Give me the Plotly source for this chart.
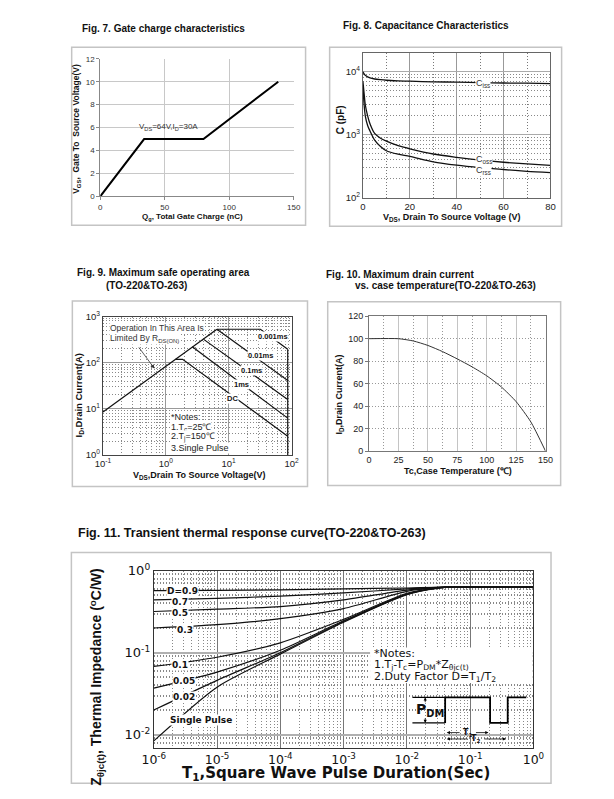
import math
import plotly.graph_objects as go

W, H = 614, 799
ARIAL = "Liberation Sans, Arial, sans-serif"
DEJA = "DejaVu Sans, sans-serif"
DOT = "1px,2px"

# ---------------- Fig. 7 data ----------------
qg_nc = [0, 34, 80, 138]
vgs_v = [0, 5, 5, 10]

# ---------------- Fig. 8 data ----------------
vds_cap = [0, 0.5, 1, 2, 3, 5, 7.5, 10, 15, 20, 30, 40, 50, 60, 70, 80]
ciss_pf = [10000, 9300, 8800, 8300, 8000, 7700, 7500, 7350, 7200, 7100, 6950, 6850, 6750, 6650, 6600, 6500]
coss_pf = [7000, 4500, 3000, 2000, 1500, 1050, 880, 790, 670, 598, 494, 437, 395, 365, 343, 325]
crss_pf = [6000, 3000, 2000, 1400, 1150, 820, 650, 556, 490, 453, 371, 328, 300, 280, 262, 250]

# ---------------- Fig. 9 data ----------------
rds_v, rds_i = [0.1, 6.5], [8.6, 530]
p0001_v, p0001_i = [6.5, 32, 87], [530, 530, 195]
p001_v, p001_i = [6.5, 87], [530, 41]
p01_v, p01_i = [4.0, 87], [320, 16]
p1ms_v, p1ms_i = [2.64, 87], [222, 6.3]
dc_v, dc_i = [1.42, 1.85, 87], [118, 118, 2.55]
bv_v, bv_i = [87, 87], [195, 1]

# ---------------- Fig. 10 data ----------------
tc_c = [0, 25, 37.5, 50, 62.5, 75, 87.5, 100, 112.5, 125, 137.5, 150]
id_a = [100, 100, 98, 94, 88.5, 82, 75, 67, 57, 44, 26, 0]

# ---------------- Fig. 11 data ----------------
t_sec = [1e-6, 1e-5, 1e-4, 1e-3, 1e-2, 3e-2, 6e-2, 1]
z_d09 = [0.57, 0.575, 0.585, 0.60, 0.615, 0.628, 0.633, 0.633]
z_d07 = [0.44, 0.46, 0.49, 0.535, 0.60, 0.625, 0.633, 0.633]
z_d05 = [0.318, 0.34, 0.365, 0.44, 0.58, 0.622, 0.633, 0.633]
z_d03 = [0.20, 0.22, 0.26, 0.345, 0.56, 0.62, 0.633, 0.633]
z_d01 = [0.068, 0.088, 0.132, 0.255, 0.53, 0.615, 0.633, 0.633]
z_d005 = [0.037, 0.058, 0.107, 0.245, 0.52, 0.613, 0.633, 0.633]
z_d002 = [0.020, 0.046, 0.10, 0.24, 0.515, 0.612, 0.633, 0.633]
z_single = [0.0084, 0.038, 0.096, 0.235, 0.51, 0.61, 0.633, 0.633]

# tick labels
cap_tickvals = [100, 1000, 10000]
cap_ticktext = ["10<sup>2</sup>", "10<sup>3</sup>", "10<sup>4</sup>"]
soa_xvals = [0.1, 1, 10, 100]
soa_xtext = ["10<sup>-1</sup>", "10<sup>0</sup>", "10<sup>1</sup>", "10<sup>2</sup>"]
soa_yvals = [1, 10, 100, 1000]
soa_ytext = ["10<sup>0</sup>", "10<sup>1</sup>", "10<sup>2</sup>", "10<sup>3</sup>"]
zt_xvals = [1e-6, 1e-5, 1e-4, 1e-3, 1e-2, 1e-1, 1]
zt_xtext = ["10<sup>-6</sup>", "10<sup>-5</sup>", "10<sup>-4</sup>", "10<sup>-3</sup>",
            "10<sup>-2</sup>", "10<sup>-1</sup>", "10<sup>0</sup>"]
zt_yvals = [0.01, 0.1, 1]
zt_ytext = ["10<sup>-2</sup>", "10<sup>-1</sup>", "10<sup>0</sup>"]


def minors(e0, e1):
    return [m * 10 ** e for e in range(e0, e1) for m in range(2, 10)]


def dx(l, r):
    return [l / W, r / W]


def dy(t, b):
    return [1 - b / H, 1 - t / H]


fig = go.Figure()

fig.add_trace(go.Scatter(x=qg_nc, y=vgs_v, mode="lines", line=dict(color="black", width=2),
                         xaxis="x", yaxis="y"))
for ys in (ciss_pf, coss_pf, crss_pf):
    fig.add_trace(go.Scatter(x=vds_cap, y=ys, mode="lines", line=dict(color="#111", width=1.3, shape="spline", smoothing=0.8),
                             xaxis="x2", yaxis="y2"))
for vv, ii in ((rds_v, rds_i), (p0001_v, p0001_i), (p001_v, p001_i), (p01_v, p01_i),
               (p1ms_v, p1ms_i), (dc_v, dc_i), (bv_v, bv_i)):
    fig.add_trace(go.Scatter(x=vv, y=ii, mode="lines", line=dict(color="#111", width=1.2),
                             xaxis="x3", yaxis="y3"))
fig.add_trace(go.Scatter(x=tc_c, y=id_a, mode="lines", line=dict(color="#333", width=1, shape="spline", smoothing=0.6),
                         xaxis="x4", yaxis="y4"))
for zz in (z_d09, z_d07, z_d05, z_d03, z_d01, z_d005, z_d002, z_single):
    fig.add_trace(go.Scatter(x=t_sec, y=zz, mode="lines", line=dict(color="#111", width=1.2, shape="spline", smoothing=0.7),
                             xaxis="x5", yaxis="y5"))

tf = lambda s, c="#222", fam=ARIAL: dict(size=s, color=c, family=fam)

layout = dict(
    width=W, height=H, margin=dict(l=0, r=0, t=0, b=0), autosize=False,
    paper_bgcolor="white", plot_bgcolor="white", showlegend=False,
    xaxis=dict(domain=dx(91.7, 292.7), range=[0, 150], tickvals=[0, 50, 100, 150], anchor="y",
               showgrid=True, gridcolor="#c8c8c8", zeroline=False, showline=True, linecolor="#888",
               ticks="outside", ticklen=3, tickcolor="#888", tickfont=tf(8, "#333")),
    yaxis=dict(domain=dy(50.7, 190.7), range=[0, 12], dtick=2, anchor="x",
               showgrid=True, gridcolor="#c8c8c8", zeroline=False, showline=True, linecolor="#888",
               ticks="outside", ticklen=3, tickcolor="#888", tickfont=tf(8, "#333")),
    xaxis2=dict(domain=dx(364.6, 559.4), range=[0, 80], tickvals=[0, 20, 40, 60, 80], anchor="y2",
                showgrid=True, gridcolor="#999", zeroline=False, showline=True, mirror=True, linecolor="#666",
                minor=dict(tickvals=[10, 30, 50, 70], showgrid=True, griddash=DOT, gridcolor="#777"),
                ticks="", tickfont=tf(9.5)),
    yaxis2=dict(domain=dy(44.7, 192), type="log", range=[2, math.log10(2e4)], anchor="x2",
                tickvals=cap_tickvals, ticktext=cap_ticktext,
                showgrid=True, gridcolor="#aaa", zeroline=False, showline=True, mirror=True, linecolor="#666",
                minor=dict(tickvals=minors(2, 5), showgrid=True, griddash=DOT, gridcolor="#888"),
                ticks="", tickfont=tf(9.5)),
    xaxis3=dict(domain=dx(94.5, 290.4), type="log", range=[-1, 2], anchor="y3",
                tickvals=soa_xvals, ticktext=soa_xtext,
                showgrid=True, gridcolor="#999", zeroline=False, showline=True, mirror=True, linecolor="#444",
                minor=dict(tickvals=minors(-1, 2), showgrid=True, griddash=DOT, gridcolor="#888"),
                ticks="", tickfont=tf(9.5)),
    yaxis3=dict(domain=dy(313, 454), type="log", range=[0, 3], anchor="x3",
                tickvals=soa_yvals, ticktext=soa_ytext,
                showgrid=True, gridcolor="#999", zeroline=False, showline=True, mirror=True, linecolor="#444",
                minor=dict(tickvals=minors(0, 3), showgrid=True, griddash=DOT, gridcolor="#888"),
                ticks="", tickfont=tf(9.5)),
    xaxis4=dict(domain=dx(371, 554.3), range=[0, 150], tickvals=[0, 25, 50, 75, 100, 125, 150], anchor="y4",
                showgrid=True, gridcolor="#c4c4c4", zeroline=False, showline=True, mirror=True, linecolor="#777",
                minor=dict(tickvals=[12.5, 37.5, 62.5, 87.5, 112.5, 137.5], showgrid=True, griddash=DOT, gridcolor="#999"),
                ticks="", tickfont=tf(9)),
    yaxis4=dict(domain=dy(312.7, 450), range=[0, 120], dtick=20, anchor="x4",
                showgrid=True, gridcolor="#999", griddash=DOT, zeroline=False, showline=True, mirror=True, linecolor="#777",
                ticks="outside", ticklen=3, tickcolor="#777", tickfont=tf(9)),
    xaxis5=dict(domain=dx(147.3, 541.7), type="log", range=[-6, 0], anchor="y5",
                tickvals=zt_xvals, ticktext=zt_xtext,
                showgrid=True, gridcolor="#777", zeroline=False, showline=True, mirror=True, linecolor="#333",
                minor=dict(tickvals=minors(-6, 0), showgrid=True, griddash=DOT, gridcolor="#888"),
                ticks="", tickfont=tf(12.5, "#111", DEJA)),
    yaxis5=dict(domain=dy(571.7, 752), type="log", range=[-2.16, 0], anchor="x5",
                tickvals=zt_yvals, ticktext=zt_ytext,
                showgrid=True, gridcolor="#b0b0b0", gridwidth=2, zeroline=False, showline=True, mirror=True, linecolor="#333",
                minor=dict(tickvals=minors(-3, 0), showgrid=True, griddash=DOT, gridcolor="#888"),
                ticks="", tickfont=tf(13, "#111", DEJA)),
)
fig.update_layout(**layout)

shapes = []
for (l, t, r, b) in [(62, 39, 305, 220), (330, 39, 571, 221), (62.7, 297.3, 307, 486),
                     (328, 298, 570, 485), (61.7, 553.3, 560, 788)]:
    shapes.append(dict(type="rect", xref="paper", yref="paper", x0=l / W, x1=r / W, y0=1 - b / H, y1=1 - t / H,
                       line=dict(color="#c4c4c4", width=1.5), layer="below"))


def pp(x, y):
    return x / W, 1 - y / H


def seg(pts, width=1.6):
    path = ""
    for i, (x, y) in enumerate(pts):
        X, Y = pp(x, y)
        path += ("M" if i == 0 else "L") + f" {X:.5f},{Y:.5f} "
    shapes.append(dict(type="path", xref="paper", yref="paper", path=path, line=dict(color="black", width=width)))


def white_box(l, t, r, b):
    X0, Y1 = pp(l, t)
    X1, Y0 = pp(r, b)
    shapes.append(dict(type="rect", xref="paper", yref="paper", x0=X0, x1=X1, y0=Y0, y1=Y1,
                       fillcolor="white", line=dict(width=0), layer="above"))


white_box(372, 650, 541, 686)
seg([(416, 700.7), (450, 700.7)], 1.2)
seg([(416, 726.7), (450, 726.7)], 1.2)
seg([(450, 726.7), (450, 700.7), (496.7, 700.7), (496.7, 726.7), (515, 726.7), (515, 700.7), (534.3, 700.7)], 1.8)

fig.update_layout(shapes=shapes)

anns = []


def txt(x, y, s, size, fam=ARIAL, bold=False, color="#111", xanchor="center", angle=0, bg=None, pad=0):
    X, Y = pp(x, y)
    d = dict(xref="paper", yref="paper", x=X, y=Y, text=s, showarrow=False, xanchor=xanchor, yanchor="middle",
             textangle=angle, font=dict(size=size, family=fam, color=color, weight="bold" if bold else "normal"),
             borderpad=pad)
    if bg:
        d["bgcolor"] = bg
    anns.append(d)


def arrow(hx, hy, tx, ty, w=0.8, size=1.0, color="#333"):
    X, Y = pp(hx, hy)
    anns.append(dict(xref="paper", yref="paper", x=X, y=Y, text="", showarrow=True, ax=tx - hx, ay=ty - hy,
                     arrowhead=2, arrowsize=size, arrowwidth=w, arrowcolor=color))


txt(71.7, 20, "Fig. 7. Gate charge characteristics", 10, bold=True, xanchor="left")
txt(343.3, 17.3, "Fig. 8. Capacitance Characteristics", 10, bold=True, xanchor="left")
txt(66.7, 268.3, "Fig. 9. Maximum safe operating area", 10, bold=True, xanchor="left")
txt(96.7, 281, "(TO-220&TO-263)", 10, bold=True, xanchor="left")
txt(325, 270, "Fig. 10. Maximum drain current", 10, bold=True, xanchor="left")
txt(355, 281.7, "vs. case temperature(TO-220&TO-263)", 10, bold=True, xanchor="left")
txt(67.3, 533.3, "Fig. 11. Transient thermal response curve(TO-220&TO-263)", 12.5, bold=True, xanchor="left")

txt(67, 121.5, "V<sub>GS</sub>,  Gate To  Source Voltage(V)", 8.5, bold=True, angle=-90)
txt(188, 212, "Q<sub>g</sub>, Total Gate Charge (nC)", 8, bold=True)
txt(341, 113, "C (pF)", 10, bold=True, angle=-90)
txt(456.7, 212.3, "V<sub>DS</sub>, Drain To Source Voltage (V)", 9, bold=True)
txt(70, 393, "I<sub>D</sub>,Drain Current(A)", 9.5, bold=True, angle=-90)
txt(194, 475, "V<sub>DS</sub>,Drain To Source Voltage(V)", 9, bold=True)
txt(340.7, 392.5, "I<sub>D</sub>,Drain Current(A)", 9, bold=True, angle=-90)
txt(463.3, 470, "Tc,Case Temperature (℃)", 9, bold=True)
txt(88, 680, "Z<sub>θjc(t)</sub>, Thermal Impedance (<sup>o</sup>C/W)", 14, bold=True, angle=-90)
txt(336.7, 778, "T<sub>1</sub>,Square Wave Pulse Duration(Sec)", 15, fam=DEJA, bold=True)

txt(162.5, 120, "V<sub>DS</sub>=64V,I<sub>D</sub>=30A", 8, color="#333")

txt(489, 76, "C<sub>iss</sub>", 9, color="#333", bg="white")
txt(490, 153.5, "C<sub>oss</sub>", 9, color="#333", bg="white")
txt(490, 164.5, "C<sub>rss</sub>", 9, color="#333", bg="white")

txt(100.7, 325, "Operation In This Area Is", 8.5, color="#333", xanchor="left", bg="white")
txt(100.7, 335.5, "Limited By R<sub>DS(ON)</sub>", 8.5, color="#333", xanchor="left", bg="white")
arrow(148, 366, 131.3, 343.3)
txt(164, 415, "*Notes:", 9, color="#222", xanchor="left", bg="white")
txt(164, 425.5, "1.T<sub>c</sub>=25℃", 9, color="#222", xanchor="left", bg="white")
txt(164, 436, "2.T<sub>j</sub>=150℃", 9, color="#222", xanchor="left", bg="white")
txt(164, 446.5, "3.Single Pulse", 9, color="#222", xanchor="left", bg="white")
txt(270.7, 333.3, "0.001ms", 7.5, bold=True, bg="white")
txt(258, 352.3, "0.01ms", 7.5, bold=True, bg="white")
txt(248.7, 368.3, "0.1ms", 7.5, bold=True, bg="white")
txt(238, 382.7, "1ms", 7.5, bold=True, bg="white")
txt(228.7, 396, "DC", 7.5, bold=True, bg="white")

for (x, y, s) in [(177.5, 592.7, "D=0.9"), (175, 603.3, "0.7"), (175, 614.3, "0.5"), (180, 631.7, "0.3"),
                  (175, 667.3, "0.1"), (178.3, 684, "0.05"), (178.3, 700, "0.02"), (196.7, 724, "Single Pulse")]:
    txt(x, y, s, 9, fam=DEJA, bold=True, bg="white")
txt(375, 655.8, "*Notes:", 11, fam=DEJA, xanchor="left")
txt(375, 667.3, "1.T<sub>j</sub>-T<sub>c</sub>=P<sub>DM</sub>*Z<sub>θjc(t)</sub>", 11, fam=DEJA, xanchor="left")
txt(375, 680.3, "2.Duty Factor D=T<sub>1</sub>/T<sub>2</sub>", 11, fam=DEJA, xanchor="left")
txt(434.7, 713.7, "P<sub>DM</sub>", 14, fam=DEJA, bold=True)
arrow(429.3, 700.7, 429.3, 707, w=0.8, size=0.8, color="black")
arrow(429.3, 726.7, 429.3, 720.5, w=0.8, size=0.8, color="black")
arrow(451.7, 736.5, 466, 736.5, w=0.8, size=0.8, color="black")
arrow(495, 736.5, 481, 736.5, w=0.8, size=0.8, color="black")
txt(473.4, 736.5, "T<sub>1</sub>", 8, fam=DEJA, bold=True)
arrow(451.7, 743, 474, 743, w=0.8, size=0.8, color="black")
arrow(513.3, 743, 490, 743, w=0.8, size=0.8, color="black")
txt(482, 743, "T<sub>2</sub>", 8, fam=DEJA, bold=True)

fig.update_layout(annotations=anns)
fig.write_html("out.html", config={"displayModeBar": False},
               post_script="document.body.style.margin='0';document.body.style.overflow='hidden';")
